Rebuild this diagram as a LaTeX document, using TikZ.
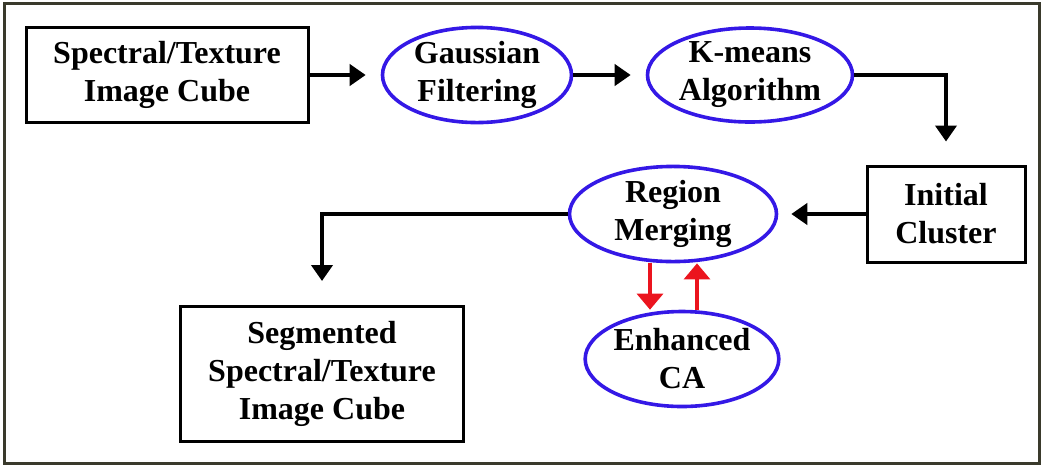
\documentclass[tikz,border=0pt]{standalone}
\usepackage{fontspec}
\setmainfont{Liberation Serif}
\usetikzlibrary{arrows.meta, shapes.geometric}

\definecolor{framegray}{RGB}{58,58,44}
\definecolor{ovalblue}{RGB}{52,24,230}
\definecolor{loopred}{RGB}{235,20,30}

\begin{document}
\begin{tikzpicture}[
    x=1pt, y=-1pt,
    font=\fontsize{32}{38}\selectfont\bfseries,
    procbox/.style={rectangle, draw=black, line width=3pt, align=center, inner sep=0pt},
    oval/.style={ellipse, draw=ovalblue, line width=3.6pt, align=center, inner sep=0pt},
    flow/.style={-{Triangle[length=16pt, width=21pt]}, line width=4pt},
    loop/.style={-{Triangle[length=16pt, width=26pt]}, line width=3.2pt, draw=loopred},
  ]
  \useasboundingbox (0,0) rectangle (1042,467);
  \draw[framegray, line width=3pt] (4,3) rectangle (1039,463);

  \node[procbox, minimum width=282pt, minimum height=95pt] (cube) at (167,75) {Spectral/Texture\\Image Cube};
  \node[oval, minimum width=189pt, minimum height=95pt] (gauss) at (477,75) {Gaussian\\Filtering};
  \node[oval, minimum width=205pt, minimum height=94pt] (kmeans) at (750,75) {K-means\\Algorithm};
  \node[procbox, minimum width=158pt, minimum height=96pt] (init) at (946,214) {Initial\\Cluster};
  \node[oval, minimum width=207pt, minimum height=94pt] (merge) at (673,214) {Region\\Merging};
  \node[oval, minimum width=190pt, minimum height=95pt] (eca) at (682,359) {Enhanced\\CA};
  \node[procbox, minimum width=283pt, minimum height=135pt] (seg) at (322,374) {Segmented\\Spectral/Texture\\Image Cube};

  \draw[flow, shorten >=15pt] (cube) -- (gauss);
  \draw[flow, shorten >=15pt] (gauss) -- (kmeans);
  \draw[flow, shorten >=23pt] (kmeans.east) -| (init.north);
  \draw[flow, shorten >=13pt] (init) -- (merge);
  \draw[flow, shorten >=24pt] (merge.west) -| (seg.north);

  \draw[loop] ([xshift=-23pt]merge.south) -- ([xshift=-32pt]eca.north);
  \draw[loop] ([xshift=15pt]eca.north) -- ([xshift=24pt]merge.south);
\end{tikzpicture}
\end{document}
